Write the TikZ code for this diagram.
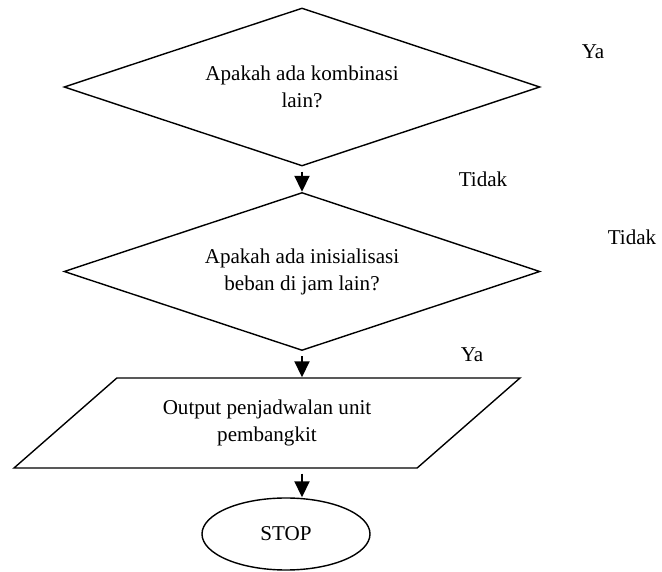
\documentclass[tikz,border=0pt]{standalone}
\usepackage{fontspec}
\setmainfont{Liberation Serif}
\usetikzlibrary{shapes.geometric,arrows.meta}

\begin{document}
\begin{tikzpicture}[
  txt/.style={font=\fontsize{12}{15.4}\selectfont, align=center},
  decision/.style={diamond, draw, line width=0.8pt, aspect=3, inner sep=1pt, minimum width=9.52cm, minimum height=3.16cm, txt},
  io/.style={trapezium, draw, line width=0.8pt, trapezium left angle=29.4, trapezium right angle=150.6, trapezium stretches body, minimum width=10.12cm, minimum height=1.8cm, txt},
  term/.style={ellipse, draw, line width=0.8pt, minimum width=3.36cm, minimum height=1.44cm, txt},
  arrow/.style={-{Triangle[width=0.3cm,length=0.32cm]}, line width=1.1pt, shorten <=0.1cm}
]
\useasboundingbox (0,0) rectangle (13.24,-11.44);

\node[decision] (combo) at (6.04,-1.74) {Apakah ada kombinasi\\lain?};
\node[decision] (init) at (6.04,-5.43) {Apakah ada inisialisasi\\beban di jam lain?};
\node[io] (out) at (5.34,-8.46) {Output penjadwalan unit\\pembangkit};
\node[term] (stop) at (5.72,-10.68) {STOP};

\node[txt] (ya1) at (11.86,-1.04) {Ya};
\node[txt] (tidak1) at (9.66,-3.58) {Tidak};
\node[txt] (tidak2) at (12.64,-4.74) {Tidak};
\node[txt] (ya2) at (9.44,-7.10) {Ya};

\draw[arrow] (combo.south) -- (init.north);
\draw[arrow] (init.south) -- (init.south |- out.north);
\draw[arrow] (init.south |- out.south) -- (init.south |- stop.north);
\end{tikzpicture}
\end{document}
